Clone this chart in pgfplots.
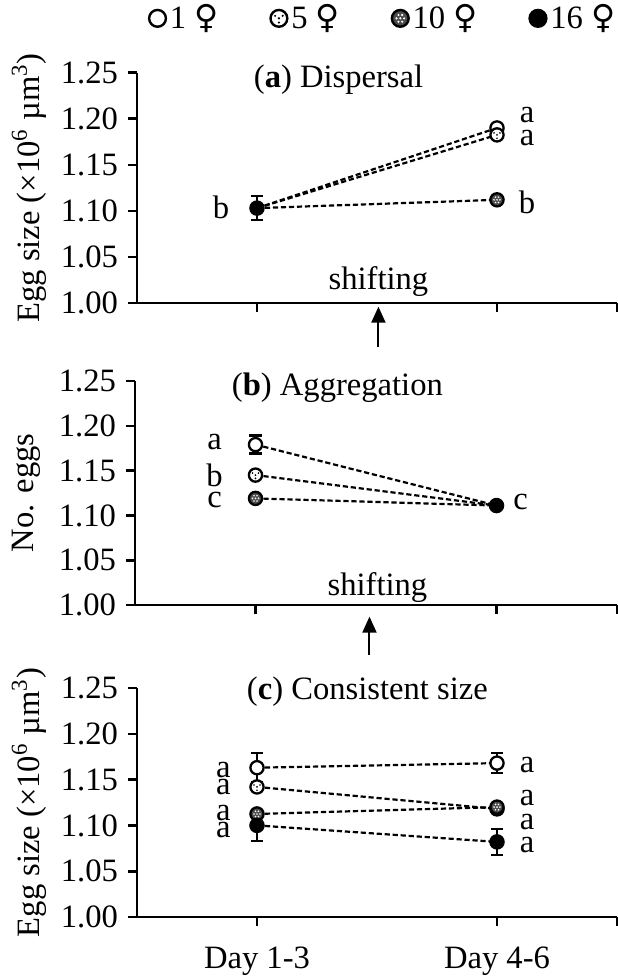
\documentclass[border=0pt]{standalone}
\usepackage{fontspec}
\setmainfont{Liberation Serif}
\newfontfamily\symfont{DejaVu Sans}
\usepackage{pgfplots}
\pgfplotsset{compat=1.18}
\usetikzlibrary{arrows.meta}
\newcommand\fs{\fontsize{16.3bp}{19bp}\selectfont}
\newcommand\fem{{\symfont\fontsize{16.5bp}{18bp}\selectfont ♀}}

\pgfdeclareplotmark{fA}{%
  \pgfsetfillcolor{white}%
  \pgfpathcircle{\pgfpointorigin}{\pgfplotmarksize}%
  \pgfusepathqfillstroke}
\pgfdeclareplotmark{fB}{%
  \pgfsetfillcolor{white}%
  \pgfpathcircle{\pgfpointorigin}{\pgfplotmarksize}%
  \pgfusepathqfillstroke
  \pgfsetfillcolor{black}%
  \pgfpathcircle{\pgfpoint{0pt}{0pt}}{0.15\pgfplotmarksize}%
  \pgfpathcircle{\pgfpoint{-0.45\pgfplotmarksize}{0.3\pgfplotmarksize}}{0.14\pgfplotmarksize}%
  \pgfpathcircle{\pgfpoint{0.45\pgfplotmarksize}{0.3\pgfplotmarksize}}{0.14\pgfplotmarksize}%
  \pgfpathcircle{\pgfpoint{0pt}{-0.5\pgfplotmarksize}}{0.14\pgfplotmarksize}%
  \pgfusepathqfill}
\pgfdeclareplotmark{fC}{%
  \pgfsetfillcolor{black!70}%
  \pgfpathcircle{\pgfpointorigin}{\pgfplotmarksize}%
  \pgfusepathqfillstroke
  \pgfsetfillcolor{white}%
  \pgfpathcircle{\pgfpoint{0pt}{0pt}}{0.14\pgfplotmarksize}%
  \pgfpathcircle{\pgfpoint{-0.45\pgfplotmarksize}{0pt}}{0.14\pgfplotmarksize}%
  \pgfpathcircle{\pgfpoint{0.45\pgfplotmarksize}{0pt}}{0.14\pgfplotmarksize}%
  \pgfpathcircle{\pgfpoint{-0.22\pgfplotmarksize}{0.4\pgfplotmarksize}}{0.14\pgfplotmarksize}%
  \pgfpathcircle{\pgfpoint{0.22\pgfplotmarksize}{0.4\pgfplotmarksize}}{0.14\pgfplotmarksize}%
  \pgfpathcircle{\pgfpoint{-0.22\pgfplotmarksize}{-0.4\pgfplotmarksize}}{0.14\pgfplotmarksize}%
  \pgfpathcircle{\pgfpoint{0.22\pgfplotmarksize}{-0.4\pgfplotmarksize}}{0.14\pgfplotmarksize}%
  \pgfusepathqfill}
\pgfdeclareplotmark{fD}{%
  \pgfsetfillcolor{black}%
  \pgfpathcircle{\pgfpointorigin}{\pgfplotmarksize}%
  \pgfusepathqfillstroke}

\pgfplotsset{
  panel/.style={
    scale only axis, width=240bp, xmin=0.5, xmax=2.5, ymin=1, ymax=1.25,
    axis lines=left, axis line style={-, line width=1.3bp},
    xtick={1,2,2.5}, xticklabels={},
    ytick={1,1.05,1.1,1.15,1.2,1.25},
    yticklabel style={xshift=-1.5bp, /pgf/number format/fixed, /pgf/number format/fixed zerofill,
      /pgf/number format/precision=2, /pgf/number format/assume math mode=true},
    xticklabel style={yshift=-7bp},
    tick style={line width=1.3bp, black}, major tick length=4.5bp, tick align=outside,
    ticklabel style={font=\fs}, label style={font=\fs},
    clip=false, anchor=north west,
    ylabel style={at={(axis description cs:-0.225,0.5)}, anchor=center},
  },
  ln/.style={black, line width=1.1bp, dash pattern=on 2.6bp off 1.4bp, forget plot},
  mk/.style={only marks, mark size=3.3bp, mark options={solid, line width=1.15bp, draw=black}, forget plot,
    error bars/y dir=both, error bars/y explicit,
    error bars/error bar style={line width=1.2bp, solid, black},
    error bars/error mark options={rotate=90, mark size=3bp, line width=1.2bp, black}},
}
\tikzset{lb/.style={font=\fs, inner sep=0pt}}

\begin{document}
\begin{tikzpicture}
\useasboundingbox (-68.5bp,-453.65bp) rectangle (240.5bp,36.35bp);
% ---------- panel a
\begin{axis}[panel, height=115.15bp, at={(0bp,0bp)},
  ylabel={Egg size (×10\textsuperscript{6} µm\textsuperscript{3})},
  legend style={at={(axis cs:1.53,1.309)}, anchor=center, draw=none, fill=none,
    legend columns=4, font=\fs, /tikz/every even column/.append style={column sep=24bp}},
  ]
\addplot[ln] coordinates {(1,1.103) (2,1.190)};
\addplot[ln] coordinates {(1,1.103) (2,1.1825)};
\addplot[ln] coordinates {(1,1.103) (2,1.112)};
\addplot[mk, mark=fA] coordinates {(2,1.190) +- (0,0)};
\addplot[mk, mark=fB] coordinates {(2,1.1825) +- (0,0)};
\addplot[mk, mark=fC] coordinates {(2,1.112) +- (0,0)};
\addplot[mk, mark=fD] coordinates {(1,1.103) +- (0,0.013)};
\addlegendimage{only marks, mark=fA, mark size=4.2bp, mark options={line width=1.2bp}}
\addlegendentry{1 \fem}
\addlegendimage{only marks, mark=fB, mark size=4.2bp, mark options={line width=1.2bp}}
\addlegendentry{5 \fem}
\addlegendimage{only marks, mark=fC, mark size=4.2bp, mark options={line width=1.2bp}}
\addlegendentry{10 \fem}
\addlegendimage{only marks, mark=fD, mark size=4.2bp, mark options={line width=1.2bp}}
\addlegendentry{16 \fem}
\node[font=\fs] at (axis cs:1.34,1.242) {(\textbf{a}) Dispersal};
\node[lb] at (axis cs:0.85,1.1043) {b};
\node[lb] at (axis cs:2.125,1.204) {a};
\node[lb] at (axis cs:2.125,1.179) {a};
\node[lb] at (axis cs:2.125,1.109) {b};
\node[font=\fs] at (axis cs:1.506,1.0229) {shifting};
\draw[line width=1bp, -{Triangle[width=7bp,length=8bp]}] (axis cs:1.506,0.952) -- (axis cs:1.506,0.996);
\end{axis}
% ---------- panel b
\begin{axis}[panel, height=112bp, at={(-1bp,-154.15bp)}, width=241bp,
  ylabel={No. eggs}]
\addplot[ln] coordinates {(1,1.179) (2,1.111)};
\addplot[ln] coordinates {(1,1.145) (2,1.111)};
\addplot[ln] coordinates {(1,1.119) (2,1.111)};
\addplot[mk, mark=fA] coordinates {(1,1.179) +- (0,0.01)};
\addplot[mk, mark=fB] coordinates {(1,1.145) +- (0,0)};
\addplot[mk, mark=fC] coordinates {(1,1.119) +- (0,0)};
\addplot[mk, mark=fD] coordinates {(2,1.111) +- (0,0)};
\node[font=\fs] at (axis cs:1.34,1.242) {(\textbf{b}) Aggregation};
\node[lb] at (axis cs:0.83,1.182) {a};
\node[lb] at (axis cs:0.83,1.145) {b};
\node[lb] at (axis cs:0.83,1.117) {c};
\node[lb] at (axis cs:2.1,1.115) {c};
\node[font=\fs] at (axis cs:1.506,1.020) {shifting};
\draw[line width=1bp, -{Triangle[width=7bp,length=8bp]}] (axis cs:1.473,0.944) -- (axis cs:1.473,0.987);
\end{axis}
% ---------- panel c
\begin{axis}[panel, height=114.5bp, at={(0bp,-307.65bp)},
  xticklabels={Day 1-3, Day 4-6, {}},
  ylabel={Egg size (×10\textsuperscript{6} µm\textsuperscript{3})}]
\addplot[ln] coordinates {(1,1.163) (2,1.168)};
\addplot[ln] coordinates {(1,1.142) (2,1.118)};
\addplot[ln] coordinates {(1,1.1125) (2,1.12)};
\addplot[ln] coordinates {(1,1.100) (2,1.082)};
\addplot[mk, mark=fA] coordinates {(1,1.163) +- (0,0.016) (2,1.168) +- (0,0.011)};
\addplot[mk, mark=fB] coordinates {(1,1.142) +- (0,0) (2,1.118) +- (0,0)};
\addplot[mk, mark=fC] coordinates {(1,1.1125) +- (0,0) (2,1.12) +- (0,0)};
\addplot[mk, mark=fD] coordinates {(1,1.100) +- (0,0.017) (2,1.082) +- (0,0.014)};
\node[font=\fs] at (axis cs:1.46,1.246) {(\textbf{c}) Consistent size};
\node[lb] at (axis cs:0.86,1.160) {a};
\node[lb] at (axis cs:0.86,1.142) {a};
\node[lb] at (axis cs:0.86,1.1135) {a};
\node[lb] at (axis cs:0.86,1.095) {a};
\node[lb] at (axis cs:2.125,1.166) {a};
\node[lb] at (axis cs:2.125,1.130) {a};
\node[lb] at (axis cs:2.125,1.104) {a};
\node[lb] at (axis cs:2.125,1.079) {a};
\end{axis}
\end{tikzpicture}
\end{document}
